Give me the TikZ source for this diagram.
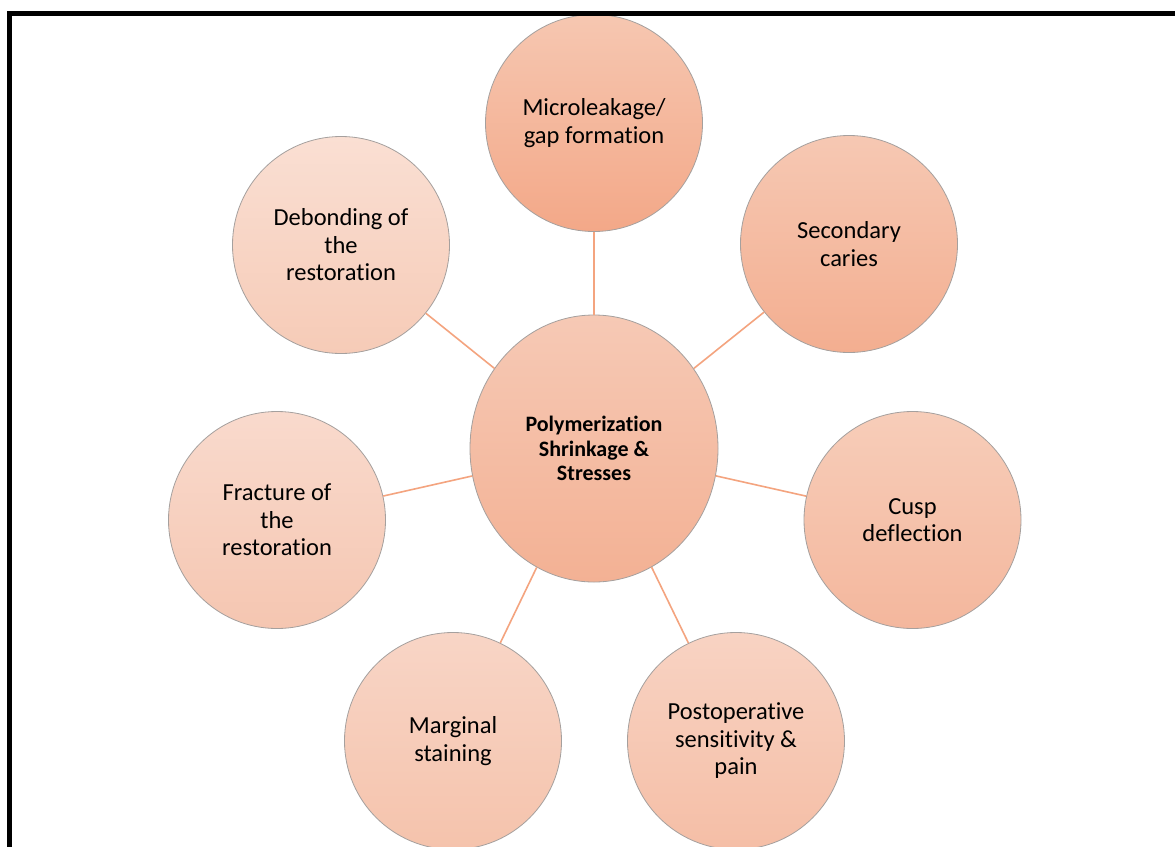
\documentclass[tikz,border=0pt]{standalone}
\usepackage{fontspec}
\setmainfont{Carlito}[Ligatures=NoCommon]
\usetikzlibrary{shapes.geometric,graphs}

\definecolor{spokeorange}{RGB}{244,164,127}
\definecolor{rimgray}{RGB}{165,160,158}
\definecolor{hubtop}{RGB}{246,201,181}
\definecolor{hubbot}{RGB}{243,177,148}
\definecolor{leaktop}{RGB}{246,199,177}
\definecolor{leakbot}{RGB}{243,168,136}
\definecolor{cariestop}{RGB}{246,200,179}
\definecolor{cariesbot}{RGB}{243,174,144}
\definecolor{cusptop}{RGB}{247,205,185}
\definecolor{cuspbot}{RGB}{244,183,157}
\definecolor{postoptop}{RGB}{248,211,195}
\definecolor{postopbot}{RGB}{245,190,166}
\definecolor{margtop}{RGB}{248,213,198}
\definecolor{margbot}{RGB}{245,195,172}
\definecolor{fractop}{RGB}{249,218,205}
\definecolor{fracbot}{RGB}{245,198,177}
\definecolor{debondtop}{RGB}{250,223,211}
\definecolor{debondbot}{RGB}{246,203,183}

\begin{document}
\begin{tikzpicture}[x=1pt, y=-1pt,
  bubble/.style 2 args = {circle, draw=rimgray, line width=0.8pt, top color=#1, bottom color=#2,
                          minimum size=217pt, inner sep=0pt, align=center, font=\fontsize{24.5}{27.5}\selectfont},
  hubshape/.style      = {ellipse, draw=rimgray, line width=0.8pt, top color=hubtop, bottom color=hubbot,
                          minimum width=248pt, minimum height=267pt, inner sep=0pt, align=center,
                          font=\bfseries\fontsize{22}{24.5}\selectfont},
  spoke/.style         = {draw=spokeorange, line width=1.6pt}]
\clip (0,0) rectangle (1175,846);
\fill[white] (0,0) rectangle (1175,846);

\node[hubshape]                         (hub)      at (594,448.5) {Polymerization\\Shrinkage \&\\Stresses};
\node[bubble={leaktop}{leakbot}]        (leak)     at (594,123)   {Microleakage/\\gap formation};
\node[bubble={cariestop}{cariesbot}]    (caries)   at (849,244)   {Secondary\\caries};
\node[bubble={cusptop}{cuspbot}]        (cusp)     at (912.5,520) {Cusp\\deflection};
\node[bubble={postoptop}{postopbot}]    (postop)   at (736,741)   {Postoperative\\sensitivity \&\\pain};
\node[bubble={margtop}{margbot}]        (marginal) at (453,741)   {Marginal\\staining};
\node[bubble={fractop}{fracbot}]        (fracture) at (277,520)   {Fracture of\\the\\restoration};
\node[bubble={debondtop}{debondbot}]    (debond)   at (341,245)   {Debonding of\\the\\restoration};

\graph[edges=spoke]{
	(hub) -- {(leak), (caries), (cusp), (postop), (marginal), (fracture), (debond)};
};
\draw[line width=4.5pt] (9.5,1000) -- (9.5,13.5) -- (1200,13.5);
\end{tikzpicture}
\end{document}
